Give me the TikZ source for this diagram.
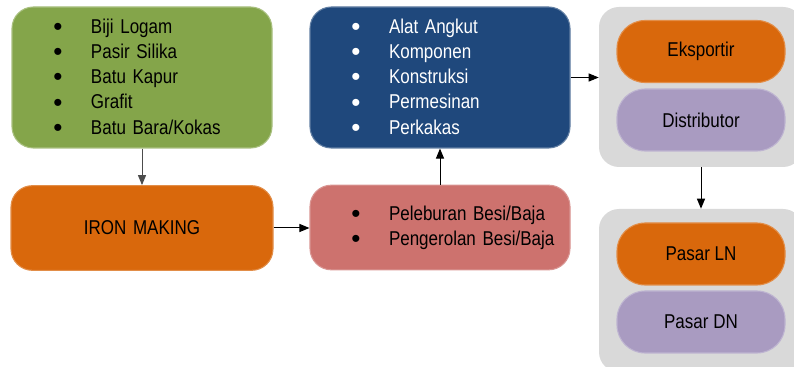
\documentclass[tikz,border=0pt]{standalone}
\usepackage{fontspec}
\setmainfont{Liberation Sans}[FakeStretch=0.85]
\newfontfamily\bulletfont{Liberation Sans}
\usetikzlibrary{arrows.meta}
\definecolor{rawgreen}{RGB}{132,165,74}
\definecolor{prodblue}{RGB}{31,72,124}
\definecolor{ironorange}{RGB}{217,104,12}
\definecolor{smeltpink}{RGB}{205,114,110}
\definecolor{distpurple}{RGB}{169,155,193}
\definecolor{grpgrey}{RGB}{217,217,217}
\newcommand{\itm}{\hspace*{29.25pt}\makebox[10.5pt][c]{\raisebox{-1.6pt}{\bulletfont\fontsize{19.5pt}{19.5pt}\selectfont\textbullet}}\hspace{19.5pt}}
\newcommand{\boxfont}{\fontsize{15pt}{18.9pt}\selectfont}
\tikzset{
  flow/.style={-{Triangle[length=7.5pt,width=6pt]}, line width=0.75pt, draw=black},
  box/.style={
    line width=0.8pt,
    rounded corners=16pt,
    align=left,
    text width=195pt,
    inner xsep=0pt,
    font=\boxfont
  },
  listbox/.style={box, minimum height=105.75pt},
  stepbox/.style={box, minimum height=63.5pt},
  pill/.style={
    line width=0.8pt,
    rounded corners=21pt,
    minimum width=126pt,
    minimum height=46.5pt,
    align=center,
    font=\boxfont
  },
  orangepill/.style={pill, fill=ironorange, draw=ironorange!75!white},
  purplepill/.style={pill, fill=distpurple, draw=distpurple!75!white},
  groupbox/.style={fill=grpgrey, rounded corners=15pt, minimum width=153pt}
}
\begin{document}
\begin{tikzpicture}[x=0.75pt, y=-0.75pt]
  \clip (0,0) rectangle (794,367);

  % raw materials and products
  \node[listbox, fill=rawgreen, draw=rawgreen!70!white] (raw) at (142,77.5)
    {\itm Biji Logam\\ \itm Pasir Silika\\ \itm Batu Kapur\\ \itm Grafit\\ \itm Batu Bara/Kokas};
  \node[listbox, fill=prodblue, draw=prodblue!70!white, text=white] (prod) at (440,77.5)
    {\itm Alat Angkut\\ \itm Komponen\\ \itm Konstruksi\\ \itm Permesinan\\ \itm Perkakas};

  % processing
  \node[stepbox, fill=ironorange, draw=ironorange!75!white, align=center, minimum width=196.5pt] (iron) at (142,228) {IRON MAKING};
  \node[stepbox, fill=smeltpink, draw=smeltpink!75!white] (smelt) at (440,227.5)
    {\itm Peleburan Besi/Baja\\ \itm Pengerolan Besi/Baja};

  % distribution
  \node[groupbox, minimum height=120pt] (grp1) at (701,87) {};
  \node[orangepill] (export) at (701,51.5) {Eksportir};
  \node[purplepill] (dist) at (701,120) {Distributor};

  \node[groupbox, minimum height=122.25pt] (grp2) at (701,290.5) {};
  \node[orangepill] (pasarln) at (701,254) {Pasar LN};
  \node[purplepill] (pasardn) at (701,322) {Pasar DN};

  \draw[flow, draw=black!70] (raw) -- (iron);
  \draw[flow] (iron.east) -- (smelt.west |- iron.east);
  \draw[flow] (smelt) -- (prod);
  \draw[flow] (prod.east) -- (prod.east -| grp1.west);
  \draw[flow] (grp1) -- (grp2);
\end{tikzpicture}
\end{document}
